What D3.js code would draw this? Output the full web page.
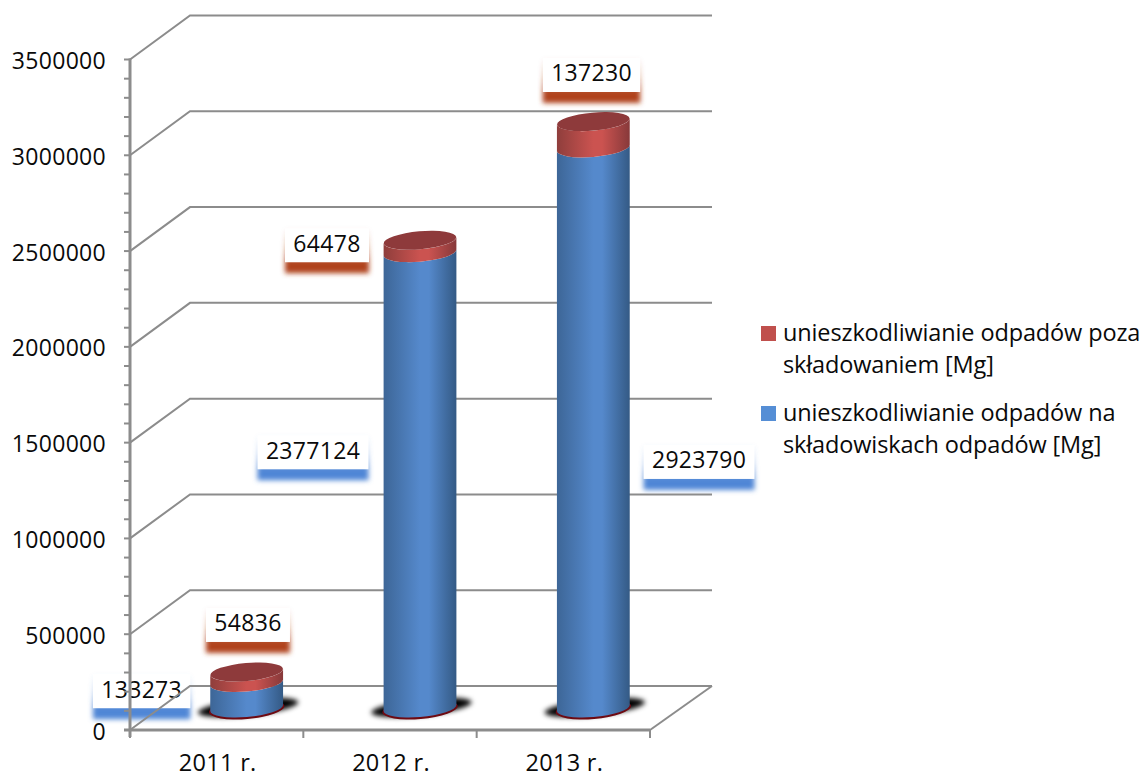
<!DOCTYPE html>
<html><head><meta charset="utf-8"><script src="https://cdn.jsdelivr.net/npm/d3@7"></script>
<style>html,body{margin:0;padding:0;background:#fff;overflow:hidden}svg{display:block}text{font-family:"Open Sans",sans-serif;fill:#0a0a0a}</style></head>
<body><div id="chart"></div>
<script>
const categories = ["2011 r.", "2012 r.", "2013 r."];
const landfill = [133273, 2377124, 2923790];
const otherDisposal = [54836, 64478, 137230];
const yTicks = [0, 500000, 1000000, 1500000, 2000000, 2500000, 3000000, 3500000];
const legendRed = ["unieszkodliwianie odpadów poza", "składowaniem [Mg]"];
const legendBlue = ["unieszkodliwianie odpadów na", "składowiskach odpadów [Mg]"];

const W = 1141, H = 773;
const svg = d3.select("#chart").append("svg").attr("width", W).attr("height", H);
const defs = svg.append("defs");
const y = d3.scaleLinear().domain([0, 3500000]).range([730, 59.5]);
const x = d3.scaleBand().domain(categories).range([130, 650]);
const depth = {dx: 60, dy: -44};
const grey = "#8c8c8c";
const fontSize = 23, spacing = 0.3;

function hGrad(id, left, mid, right) {
  const g = defs.append("linearGradient").attr("id", id);
  [[0, left], [.5, mid], [.62, mid], [1, right]].forEach(s => g.append("stop").attr("offset", s[0]).attr("stop-color", s[1]));
}
hGrad("blueCyl", "#3d6697", "#5589cc", "#345a85");
hGrad("redCyl", "#8f3e3c", "#cb5350", "#87393a");
defs.append("filter").attr("id", "blur2").attr("x", "-30%").attr("y", "-60%").attr("width", "160%").attr("height", "220%").append("feGaussianBlur").attr("stdDeviation", 2.4);
defs.append("filter").attr("id", "blur3").attr("x", "-30%").attr("y", "-100%").attr("width", "160%").attr("height", "300%").append("feGaussianBlur").attr("stdDeviation", 2.4);
function vGrad(id, c) {
  const g = defs.append("linearGradient").attr("id", id).attr("x1", 0).attr("x2", 0).attr("y1", 0).attr("y2", 1);
  [[0, 0], [.4, .35], [.76, 1], [1, 1]].forEach(s => g.append("stop").attr("offset", s[0]).attr("stop-color", c).attr("stop-opacity", s[1]));
}
vGrad("glowBlue", "#4f86d6");
vGrad("glowRed", "#b0431a");

const cx = d => x(d) + x.bandwidth() / 2 + depth.dx / 2;
const yy = v => y(v) + depth.dy / 2;
const rows = categories.map((c, i) => ({c, a: landfill[i], b: otherDisposal[i]}));

// data labels sit under the wall lines: the reference shows the axis crossing the first one
function label(value, glow, xMid, bottom) {
  const h = 34, band = 11, w = String(value).length * 13.5 + 16.5, g = svg.append("g");
  g.append("rect").attr("x", xMid - w / 2).attr("y", bottom - h).attr("width", w).attr("height", h + band)
    .attr("fill", `url(#${glow})`).attr("filter", "url(#blur3)");
  g.append("rect").attr("x", xMid - w / 2).attr("y", bottom - h).attr("width", w).attr("height", h).attr("fill", "#fff");
  g.append("text").attr("x", xMid).attr("y", bottom - 10.5).attr("text-anchor", "middle")
    .attr("font-size", fontSize).attr("letter-spacing", spacing).text(value);
}
const blueShiftX = [-105, -107, 105.7];
const blueShiftY = [13, -11, 51];
const redShiftX = [1.3, -93, -1.8];
const redShiftY = [-30, 22, -29.6];
rows.forEach((d, i) => label(d.a, "glowBlue", cx(d.c) + blueShiftX[i], yy(d.a / 2) + blueShiftY[i]));
rows.forEach((d, i) => label(d.b, "glowRed", cx(d.c) + redShiftX[i], yy(d.a + d.b) + redShiftY[i]));

// walls and floor
const wall = svg.append("g").attr("fill", "none").attr("stroke", grey);
wall.selectAll("path.grid").data(yTicks).join("path").attr("class", "grid").attr("stroke-width", 2)
  .attr("d", d => {
    const p = d3.path();
    p.moveTo(x.range()[0], y(d));
    p.lineTo(x.range()[0] + depth.dx, y(d) + depth.dy);
    p.lineTo(x.range()[1] + depth.dx + 2, y(d) + depth.dy);
    return p.toString();
  });
wall.append("path").attr("stroke-width", 2).attr("d", () => {
  const p = d3.path();
  p.moveTo(x.range()[1], y(0));
  p.lineTo(x.range()[1] + depth.dx + 2, y(0) + depth.dy);
  return p.toString();
});
// axis
const minor = d3.range(0, 3500001, 100000);
wall.selectAll("line.minor").data(minor).join("line").attr("stroke-width", 2)
  .attr("x1", 124).attr("x2", 130).attr("y1", d => y(d)).attr("y2", d => y(d));
wall.append("line").attr("stroke-width", 3).attr("x1", 130).attr("x2", 130).attr("y1", y(3500000) - 1).attr("y2", y(0) + 7);
wall.append("line").attr("stroke-width", 3).attr("x1", 124).attr("x2", x.range()[1]).attr("y1", y(0)).attr("y2", y(0));
wall.selectAll("line.xt").data(d3.range(4)).join("line").attr("stroke-width", 2)
  .attr("x1", i => x.range()[0] + i * x.step()).attr("x2", i => x.range()[0] + i * x.step())
  .attr("y1", y(0)).attr("y2", y(0) + 8);

svg.append("g").selectAll("text").data(yTicks).join("text").attr("x", 106).attr("y", d => y(d) + 9.5)
  .attr("text-anchor", "end").attr("font-size", fontSize).attr("letter-spacing", spacing).text(d => d);
svg.append("g").selectAll("text").data(categories).join("text").attr("x", d => x(d) + x.bandwidth() / 2 + 1).attr("y", 771)
  .attr("text-anchor", "middle").attr("font-size", 23.5).attr("letter-spacing", 0.3).text(d => d);

// cylinders
const rx = 36.4, ry = 9, tilt = -5, slope = 3;
function segment(c, top, bottom) {
  return `M${c - rx},${top + slope}L${c - rx},${bottom + slope}`
    + `A${rx},${ry} ${tilt} 0 0 ${c + rx},${bottom - slope}L${c + rx},${top - slope}`
    + `A${rx},${ry} ${tilt} 0 1 ${c - rx},${top + slope}Z`;
}
const shadows = svg.append("g");
shadows.selectAll("ellipse.s").data(rows).join("ellipse").attr("class", "s")
  .attr("cx", d => cx(d.c) + 1.5).attr("cy", yy(0) - 0.5).attr("rx", rx + 14).attr("ry", ry - 1)
  .attr("transform", d => `rotate(${tilt - 1} ${cx(d.c)} ${yy(0)})`)
  .attr("fill", "#000").attr("filter", "url(#blur2)");
shadows.selectAll("ellipse.r").data(rows).join("ellipse").attr("class", "r")
  .attr("cx", d => cx(d.c)).attr("cy", yy(0) + 1).attr("rx", rx + 1.5).attr("ry", ry + 1)
  .attr("transform", d => `rotate(${tilt} ${cx(d.c)} ${yy(0) + 1})`)
  .attr("fill", "#6e0a12");
const cyl = svg.append("g");
cyl.selectAll("path.blue").data(rows).join("path").attr("class", "blue").attr("fill", "url(#blueCyl)")
  .attr("d", d => segment(cx(d.c), yy(d.a), yy(0)));
cyl.selectAll("path.red").data(rows).join("path").attr("class", "red").attr("fill", "url(#redCyl)")
  .attr("d", d => segment(cx(d.c), yy(d.a + d.b), yy(d.a)));
cyl.selectAll("ellipse").data(rows).join("ellipse").attr("fill", "#8e3a3b")
  .attr("cx", d => cx(d.c)).attr("cy", d => yy(d.a + d.b)).attr("rx", rx).attr("ry", ry)
  .attr("transform", d => `rotate(${tilt} ${cx(d.c)} ${yy(d.a + d.b)})`);

// legend
const legend = svg.append("g");
function legendBlock(color, lines, base) {
  legend.append("rect").attr("x", 761).attr("y", base - 15).attr("width", 15).attr("height", 15).attr("fill", color);
  legend.selectAll(null).data(lines).join("text").attr("x", 783).attr("y", (d, i) => base + i * 32)
    .attr("font-size", 23.5).attr("letter-spacing", -0.13).text(d => d);
}
legendBlock("#c0504d", legendRed, 341);
legendBlock("#558ed5", legendBlue, 421);
</script></body></html>
